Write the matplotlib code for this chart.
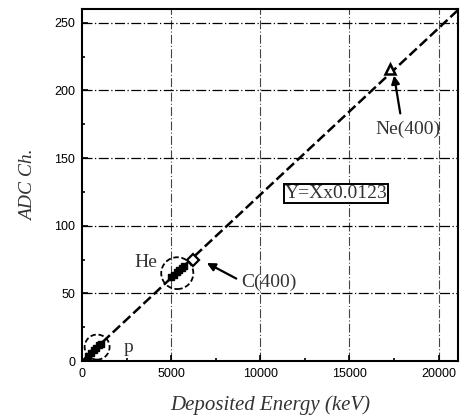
import matplotlib
matplotlib.use("Agg")
import matplotlib.pyplot as plt
import numpy as np
from matplotlib.patches import Ellipse

# fit: Y = X x 0.0123
slope = 0.0123
fit_x = [0, 21100]

# measured points (keV, ADC ch.)
p_x = [350, 500, 650, 800, 950, 1050]
p_y = [4, 6, 8, 10, 12, 13]
he_x = [5000, 5150, 5300, 5450, 5600, 5700]
he_y = [62, 63.5, 65.5, 67, 69, 70.5]
c_x = [6200]
c_y = [75]
ne_x = [17300]
ne_y = [216]

xticks = [0, 5000, 10000, 15000, 20000]
yticks = [0, 50, 100, 150, 200, 250]

serif = ["Liberation Serif", "DejaVu Serif"]
sans = ["Liberation Sans", "DejaVu Sans"]
grey = "#333333"

fig = plt.figure(figsize=(4.69, 4.18), dpi=100)
ax = fig.add_axes([0.175, 0.136, 0.802, 0.842])

ax.set_xlim(0, 21100)
ax.set_ylim(0, 260)

for x in xticks[1:]:
    ax.axvline(x, color="#444444", lw=0.8, ls=(0, (8, 2, 1, 2)), zorder=1)
for y in yticks[1:]:
    ax.axhline(y, color="black", lw=0.9, ls=(0, (8, 2, 1, 2)), zorder=1)

fx = np.array(fit_x, dtype=float)
ax.plot(fx, fx * slope, color="black", lw=1.8, ls=(0, (4, 1.6)), zorder=2)

ax.plot(p_x, p_y, "s", color="black", ms=4, zorder=3)
ax.plot(he_x, he_y, "s", color="black", ms=4, zorder=3)
ax.plot(c_x, c_y, "D", mfc="white", mec="black", mew=1.6, ms=6, zorder=4)
ax.plot(ne_x, ne_y, "^", mfc="white", mec="black", mew=1.8, ms=7, zorder=4)

ax.add_patch(Ellipse((843, 10.4), 1400, 18.5, fill=False, ec="black",
                     lw=1.3, ls=(0, (3, 1.5)), zorder=5))
ax.add_patch(Ellipse((5340, 65), 1800, 23.5, fill=False, ec="black",
                     lw=1.3, ls=(0, (3, 1.5)), zorder=5))

arrow = dict(arrowstyle="-|>", color="black", lw=1.6, mutation_scale=12,
             shrinkA=0, shrinkB=0)
ax.annotate("", xy=(17500, 211), xytext=(17850, 183), arrowprops=arrow)
ax.text(18300, 171, "Ne(400)", family=serif, fontsize=14, color=grey,
        ha="center", va="center")
ax.annotate("", xy=(7000, 72.5), xytext=(8650, 61), arrowprops=arrow)
ax.text(10500, 58, "C(400)", family=serif, fontsize=14, color=grey,
        ha="center", va="center")
ax.text(3600, 73, "He", family=serif, fontsize=14, color=grey,
        ha="center", va="center")
ax.text(2600, 10, "p", family=serif, fontsize=14, color=grey,
        ha="center", va="center")
ax.text(14250, 124, "Y=Xx0.0123", family=serif, fontsize=14, color=grey,
        ha="center", va="center",
        bbox=dict(boxstyle="square,pad=0.05", fc="white", ec="black", lw=1.4))

ax.set_xticks(xticks)
ax.set_yticks(yticks)
ax.set_xticks(np.arange(2500, 21000, 5000), minor=True)
ax.set_yticks(np.arange(25, 260, 50), minor=True)
ax.tick_params(which="both", direction="in", top=False, right=False)
ax.tick_params(which="major", length=4, width=1.2, labelsize=9, pad=5)
ax.tick_params(which="minor", length=2.5, width=1.2)
for lab in ax.get_xticklabels() + ax.get_yticklabels():
    lab.set_family(sans)

for side in ("left", "bottom", "right", "top"):
    ax.spines[side].set_linewidth(1.5)

ax.set_xlabel("Deposited Energy (keV)", family=serif, style="italic",
              fontsize=15, color=grey, labelpad=11)
ax.set_ylabel("ADC Ch.", family=serif, style="italic", fontsize=14,
              color=grey, labelpad=12)

fig.savefig("out.png", dpi=100)
